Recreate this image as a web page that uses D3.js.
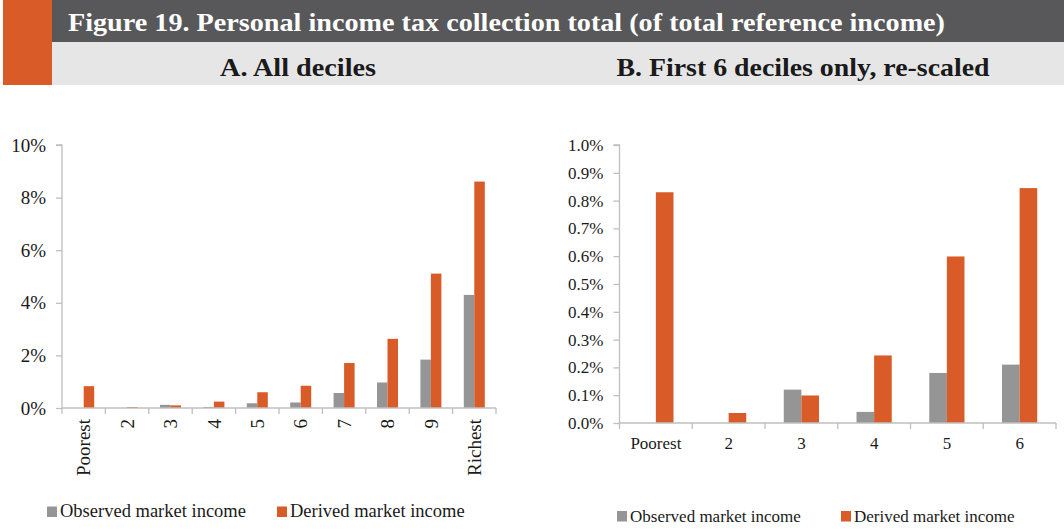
<!DOCTYPE html>
<html>
<head>
<meta charset="utf-8">
<script src="https://cdn.jsdelivr.net/npm/d3@7"></script>
<style>
  html, body { margin: 0; padding: 0; background: #fff; }
  svg { display: block; }
  text { font-family: "Liberation Serif", "DejaVu Serif", serif; }
</style>
</head>
<body>
<svg id="chart" width="1064" height="530"></svg>
<script>
// ---- data (percent of total reference income) ----
const deciles = ["Poorest", "2", "3", "4", "5", "6", "7", "8", "9", "Richest"];
const observed = [0, 0, 0.12, 0.04, 0.18, 0.21, 0.57, 0.97, 1.84, 4.30];
const derived = [0.83, 0.036, 0.099, 0.243, 0.599, 0.845, 1.71, 2.63, 5.11, 8.61];
const seriesNames = ["Observed market income", "Derived market income"];
const ticksA = [0, 2, 4, 6, 8, 10];
const ticksB = [0, 0.1, 0.2, 0.3, 0.4, 0.5, 0.6, 0.7, 0.8, 0.9, 1.0];
const titleText = "Figure 19. Personal income tax collection total (of total reference income)";
const panelTitles = ["A. All deciles", "B. First 6 deciles only, re-scaled"];

const colors = ["#959595", "#D85B28"];
const axisColor = "#BFBFBF";

const svg = d3.select("#chart");

// ---- header ----
svg.append("rect").attr("x", 3).attr("y", 0).attr("width", 49).attr("height", 85).attr("fill", "#D85B28");
svg.append("rect").attr("x", 52).attr("y", 0).attr("width", 1012).attr("height", 42).attr("fill", "#58585A");
svg.append("rect").attr("x", 52).attr("y", 42).attr("width", 1012).attr("height", 43).attr("fill", "#E6E6E7");
svg.append("text").attr("x", 68).attr("y", 31)
  .attr("fill", "#fff").attr("font-weight", "bold").attr("font-size", 25)
  .attr("textLength", 877).attr("lengthAdjust", "spacingAndGlyphs")
  .text(titleText);
svg.append("text").attr("x", 298).attr("y", 76).attr("text-anchor", "middle")
  .attr("fill", "#1a1a1a").attr("font-weight", "bold").attr("font-size", 25)
  .attr("textLength", 156).attr("lengthAdjust", "spacingAndGlyphs")
  .text(panelTitles[0]);
svg.append("text").attr("x", 803).attr("y", 76).attr("text-anchor", "middle")
  .attr("fill", "#1a1a1a").attr("font-weight", "bold").attr("font-size", 25)
  .attr("textLength", 373).attr("lengthAdjust", "spacingAndGlyphs")
  .text(panelTitles[1]);

function panel(cfg) {
  const g = svg.append("g");
  const cats = deciles.slice(0, cfg.n);
  const x = d3.scaleBand().domain(cats).range([cfg.x0, cfg.x1]);
  const y = d3.scaleLinear().domain([0, cfg.ymax]).range([cfg.y0, cfg.y1]);
  const bw = x.bandwidth() * 0.242;

  // bars
  [observed, derived].forEach((vals, si) => {
    g.selectAll(null).data(cats).enter().append("rect")
      .attr("x", d => x(d) + x.bandwidth() / 2 + (si === 0 ? -bw : 0))
      .attr("y", (d, i) => y(vals[i]))
      .attr("width", bw)
      .attr("height", (d, i) => cfg.y0 - y(vals[i]))
      .attr("fill", colors[si]);
  });

  // y axis
  const ya = g.append("g").attr("transform", `translate(${cfg.x0},0)`)
    .call(d3.axisLeft(y).tickValues(cfg.ticks).tickSize(6).tickPadding(cfg.ypad).tickFormat(cfg.fmt));
  ya.select(".domain").attr("stroke", axisColor).attr("stroke-width", 1.3).attr("d", `M-6,${cfg.y1}H0V${cfg.y0}`);
  ya.selectAll(".tick line").attr("stroke", axisColor).attr("stroke-width", 1.3);
  ya.selectAll(".tick text").attr("font-size", cfg.fs).attr("fill", "#1a1a1a")
    .attr("font-family", "Liberation Serif, serif");

  // x axis
  const xa = g.append("g").attr("transform", `translate(0,${cfg.y0})`)
    .call(d3.axisBottom(x).tickSize(0).tickPadding(0));
  xa.select(".domain").attr("stroke", axisColor).attr("stroke-width", 1.3).attr("d", `M${cfg.x0},0H${cfg.x1}`);
  // boundary ticks
  const bounds = cats.map(c => x(c)).concat([cfg.x1]);
  xa.selectAll(".bt").data(bounds).enter().append("line")
    .attr("x1", d => d).attr("x2", d => d).attr("y1", 0).attr("y2", 6)
    .attr("stroke", axisColor).attr("stroke-width", 1.3);
  const tt = xa.selectAll(".tick text").attr("font-size", cfg.fs).attr("fill", "#1a1a1a")
    .attr("font-family", "Liberation Serif, serif");
  if (cfg.rotate) {
    tt.attr("transform", "rotate(-90)").attr("text-anchor", "end")
      .attr("x", -11).attr("y", 0).attr("dy", "0.35em");
  } else {
    tt.attr("y", 14).attr("dy", "0.71em");
  }

  // legend
  seriesNames.forEach((name, si) => {
    const lx = cfg.legX[si];
    g.append("rect").attr("x", lx).attr("y", cfg.legY - 10.5).attr("width", 10).attr("height", 10.5)
      .attr("fill", colors[si]);
    g.append("text").attr("x", lx + 13).attr("y", cfg.legY).attr("font-size", cfg.legFs)
      .attr("fill", "#1a1a1a").text(name);
  });
}

panel({
  n: 10, x0: 62, x1: 496, y0: 408, y1: 145, ymax: 10, ticks: ticksA,
  fmt: d => d + "%", fs: 19, ypad: 10, rotate: true,
  legX: [47, 277], legY: 517, legFs: 18.5
});

panel({
  n: 6, x0: 619.5, x1: 1056, y0: 423, y1: 145, ymax: 1.0, ticks: ticksB,
  fmt: d => d.toFixed(1) + "%", fs: 17, ypad: 10, rotate: false,
  legX: [617, 841], legY: 521.5, legFs: 17
});
</script>
</body>
</html>
